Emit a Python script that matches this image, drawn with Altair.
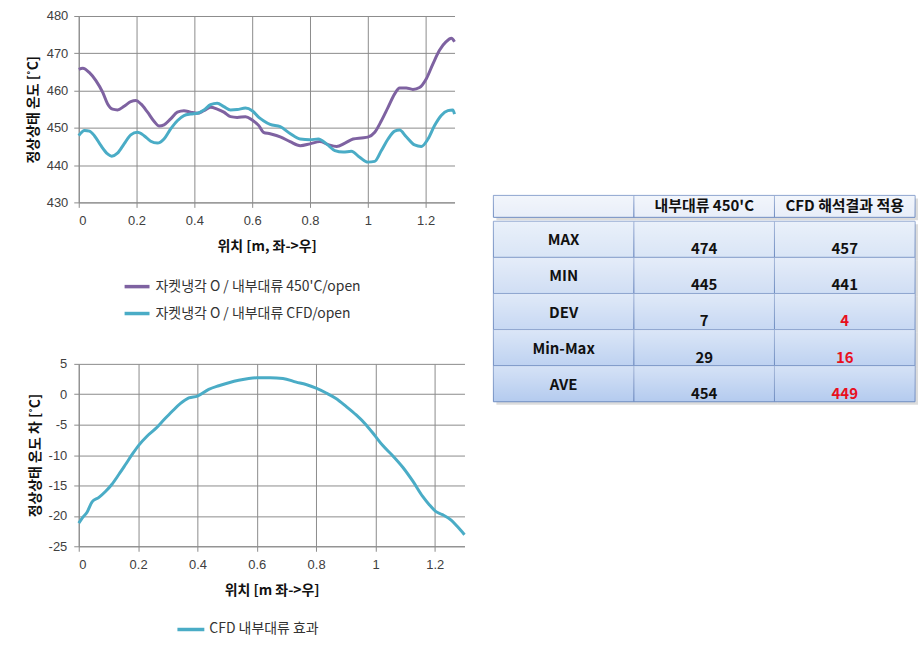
import altair as alt
import pandas as pd

# ---------------- data ----------------
x_450 = [0.000, 0.014, 0.037, 0.060, 0.083, 0.100, 0.117, 0.134, 0.157, 0.180, 0.198, 0.215,
         0.238, 0.261, 0.278, 0.295, 0.318, 0.341, 0.364, 0.387, 0.410, 0.433, 0.456, 0.479,
         0.502, 0.525, 0.548, 0.577, 0.600, 0.623, 0.639, 0.662, 0.697, 0.731, 0.766, 0.800,
         0.834, 0.863, 0.892, 0.921, 0.949, 0.978, 1.000, 1.024, 1.047, 1.070, 1.093, 1.110,
         1.133, 1.156, 1.179, 1.202, 1.225, 1.248, 1.271, 1.289, 1.300]
y_450 = [465.7, 466.0, 464.8, 462.6, 459.5, 456.4, 455.0, 454.8, 455.8, 457.0, 457.3, 456.4,
         454.2, 451.7, 450.5, 450.8, 452.4, 454.2, 454.6, 454.2, 453.9, 454.6, 455.5, 455.0,
         454.2, 453.0, 452.8, 453.0, 452.1, 450.6, 448.8, 448.4, 447.6, 446.3, 445.2, 445.7,
         446.3, 445.5, 445.0, 445.9, 447.0, 447.3, 447.5, 448.8, 451.9, 455.5, 459.1, 460.7,
         460.7, 460.3, 460.8, 463.1, 467.1, 470.8, 473.1, 474.0, 473.1]

x_cfd = [0.000, 0.020, 0.037, 0.054, 0.077, 0.100, 0.114, 0.134, 0.157, 0.180, 0.203, 0.226,
         0.249, 0.272, 0.295, 0.318, 0.341, 0.364, 0.387, 0.410, 0.433, 0.456, 0.479, 0.502,
         0.525, 0.548, 0.577, 0.600, 0.623, 0.639, 0.662, 0.697, 0.731, 0.766, 0.800, 0.829,
         0.857, 0.886, 0.915, 0.943, 0.972, 1.000, 1.024, 1.047, 1.070, 1.093, 1.110, 1.133,
         1.162, 1.185, 1.208, 1.231, 1.254, 1.277, 1.294, 1.300]
y_cfd = [447.9, 449.3, 449.1, 447.9, 445.2, 443.0, 442.4, 443.2, 445.7, 448.1, 448.8, 447.9,
         446.4, 445.9, 447.0, 449.7, 451.9, 453.3, 453.7, 453.9, 454.8, 456.2, 456.6, 455.7,
         454.8, 454.9, 455.3, 454.6, 452.8, 451.9, 450.9, 450.3, 448.5, 447.0, 446.8, 447.0,
         445.7, 443.9, 443.5, 443.7, 442.1, 440.8, 441.0, 443.9, 447.0, 449.1, 449.4, 447.6,
         445.4, 445.0, 447.0, 450.6, 453.3, 454.6, 454.8, 453.7]

x_diff = [0.000, 0.011, 0.028, 0.045, 0.067, 0.090, 0.112, 0.135, 0.157, 0.180, 0.202, 0.230,
          0.258, 0.287, 0.315, 0.343, 0.371, 0.400, 0.438, 0.472, 0.506, 0.539, 0.573, 0.600,
          0.645, 0.688, 0.733, 0.766, 0.800, 0.834, 0.867, 0.901, 0.935, 0.968, 0.998, 1.024,
          1.058, 1.092, 1.126, 1.159, 1.182, 1.204, 1.226, 1.255, 1.277, 1.300]
y_diff = [-21.2, -20.4, -19.4, -17.7, -17.0, -16.0, -14.8, -13.2, -11.6, -9.9, -8.4, -6.9,
          -5.7, -4.2, -2.8, -1.5, -0.6, -0.3, 0.8, 1.4, 1.9, 2.3, 2.6, 2.7,
          2.7, 2.6, 2.0, 1.6, 1.0, 0.2, -0.7, -2.0, -3.4, -5.0, -6.8, -8.4,
          -10.1, -12.0, -14.3, -16.8, -18.2, -19.3, -19.8, -20.7, -21.8, -23.1]

series_names = ["자켓냉각 O / 내부대류 450'C/open", "자켓냉각 O / 내부대류 CFD/open"]
diff_name = ["CFD 내부대류 효과"]
x_ticks = [0, 0.2, 0.4, 0.6, 0.8, 1.0, 1.2]
y_ticks_top = [430, 440, 450, 460, 470, 480]
y_ticks_bottom = [-25, -20, -15, -10, -5, 0, 5]

table_columns = ["", "내부대류 450'C", "CFD 해석결과 적용"]
row_labels = ["MAX", "MIN", "DEV", "Min-Max", "AVE"]
vals_450 = [474, 445, 7, 29, 454]
vals_cfd = [457, 441, 4, 16, 449]
cfd_red = [False, False, True, True, True]

# ---------------- style ----------------
FONT = "Noto Sans CJK KR"
NUMFONT = "Liberation Sans"
GRID = "#8c8c8c"
PURPLE = "#7e62a1"
TEAL = "#4aacc6"
HYPHEN_LABEL = "datum.value < 0 ? '-' + format(-datum.value, '~g') : format(datum.value, '~g')"


def x_enc(title):
    return alt.X("x:Q", scale=alt.Scale(domain=[0, 1.3], nice=False, zero=False),
                 axis=alt.Axis(values=x_ticks, format="~g", title=title, labelPadding=7,
                               titlePadding=12))


# top chart
df_top = pd.concat([
    pd.DataFrame({"x": x_450, "y": y_450, "s": series_names[0]}),
    pd.DataFrame({"x": x_cfd, "y": y_cfd, "s": series_names[1]}),
])
top = alt.Chart(df_top).mark_line(strokeWidth=3, interpolate="monotone").encode(
    x=x_enc("위치 [m, 좌->우]"),
    y=alt.Y("y:Q", scale=alt.Scale(domain=[430, 480], nice=False, zero=False),
            axis=alt.Axis(values=y_ticks_top, title="정상상태 온도 [˚C]", labelPadding=6,
                          titlePadding=6)),
    color=alt.Color("s:N", scale=alt.Scale(domain=series_names, range=[PURPLE, TEAL]),
                    legend=alt.Legend(orient="none", legendX=44, legendY=257, title=None,
                                      symbolType="stroke", symbolSize=625,
                                      symbolStrokeWidth=3.5, labelFontSize=14,
                                      labelOffset=4, rowPadding=5, padding=0,
                                      labelFont=FONT, labelColor="#333333",
                                      labelLimit=400)),
).properties(width=377, height=187)

# bottom chart
df_bot = pd.DataFrame({"x": x_diff, "y": y_diff, "s": diff_name[0]})
bottom = alt.Chart(df_bot).mark_line(strokeWidth=3, interpolate="monotone").encode(
    x=x_enc("위치 [m 좌->우]"),
    y=alt.Y("y:Q", scale=alt.Scale(domain=[-25, 5], nice=False, zero=False),
            axis=alt.Axis(values=y_ticks_bottom, title="정상상태 온도 차 [˚C]", labelPadding=7,
                          titlePadding=6, labelExpr=HYPHEN_LABEL)),
    color=alt.Color("s:N", scale=alt.Scale(domain=diff_name, range=[TEAL]),
                    legend=alt.Legend(orient="none", legendX=97, legendY=251, title=None,
                                      symbolType="stroke", symbolSize=729,
                                      symbolStrokeWidth=3.5, labelFontSize=14,
                                      labelOffset=3, padding=0, labelFont=FONT,
                                      labelColor="#333333", labelLimit=400)),
).properties(width=387, height=183)

left = alt.vconcat(top, bottom, spacing=37).resolve_scale(color="independent")

# ---------------- table ----------------
col_keys = ["c0", "c1", "c2"]
xs = alt.X("col:N", scale=alt.Scale(domain=col_keys, paddingInner=0, paddingOuter=0), axis=None)

hdr_df = pd.DataFrame({"col": col_keys, "txt": table_columns, "row": "h"})
rows = []
for i, lab in enumerate(row_labels):
    rows.append({"row": lab, "col": "c0", "txt": lab, "kind": "label", "red": False})
    rows.append({"row": lab, "col": "c1", "txt": str(vals_450[i]), "kind": "value", "red": False})
    rows.append({"row": lab, "col": "c2", "txt": str(vals_cfd[i]), "kind": "value", "red": cfd_red[i]})
body_df = pd.DataFrame(rows)

BORDER = "#6f8dc2"
shadow = dict(color="#9a9a9a", opacity=0.35, xOffset=3, yOffset=3)
overlay_grad = alt.Gradient(gradient="linear", x1=0, y1=0, x2=0, y2=1,
                            stops=[alt.GradientStop(offset=0, color="rgba(255,255,255,0.45)"),
                                   alt.GradientStop(offset=1, color="rgba(255,255,255,0)")])

hy = alt.Y("row:N", axis=None, scale=alt.Scale(paddingInner=0, paddingOuter=0))
hdr_base = alt.Chart(hdr_df).encode(x=xs, y=hy)
header = alt.layer(
    hdr_base.mark_rect(**shadow),
    hdr_base.mark_rect(fill="#e8eef9", stroke=BORDER, strokeWidth=1),
    hdr_base.mark_rect(fill=overlay_grad),
    hdr_base.mark_text(font=FONT, fontSize=15, fontWeight="bold", color="#111111").encode(text="txt:N"),
).properties(width=423, height=22)

by = alt.Y("row:N", axis=None, sort=row_labels, scale=alt.Scale(paddingInner=0, paddingOuter=0))
body_base = alt.Chart(body_df).encode(x=xs, y=by)
row_colors = ["#d9e5f6", "#d0def4", "#c7d8f3", "#bed2f1", "#b4cbef"]
body = alt.layer(
    body_base.mark_rect(**shadow),
    body_base.mark_rect(stroke=BORDER, strokeWidth=1).encode(
        fill=alt.Fill("row:N", scale=alt.Scale(domain=row_labels, range=row_colors), legend=None)),
    body_base.mark_rect(fill=overlay_grad),
    body_base.transform_filter("datum.kind == 'label'").mark_text(
        font=FONT, fontSize=15, fontWeight="bold", color="#111111", dy=1).encode(text="txt:N"),
    body_base.transform_filter("datum.kind == 'value'").mark_text(
        font=FONT, fontSize=15, fontWeight="bold", dy=10).encode(
        text="txt:N",
        color=alt.condition("datum.red", alt.value("#e8101e"), alt.value("#111111"))),
).properties(width=423, height=181)

spacer = alt.Chart(pd.DataFrame({"a": [0]})).mark_point(opacity=0).encode(
    x=alt.value(0), y=alt.value(0)).properties(width=423, height=179)

right = alt.vconcat(spacer, header, body, spacing=0).resolve_scale(
    x="shared", y="independent", fill="independent", color="independent")

chart = alt.hconcat(left, right, spacing=20).resolve_scale(
    color="independent", fill="independent").properties(
    padding={"left": 26, "top": 9, "right": 5, "bottom": 5}
).configure_view(stroke=None).configure_axis(
    gridColor=GRID, gridWidth=1, domainColor=GRID, tickColor=GRID, tickSize=5,
    labelFont=NUMFONT, labelFontSize=13, labelColor="#404040",
    titleFont=FONT, titleFontSize=14, titleFontWeight="bold", titleColor="#111111"
).configure_legend(labelFont=FONT)

chart.save("out.html", embed_options={"renderer": "svg", "actions": False})
